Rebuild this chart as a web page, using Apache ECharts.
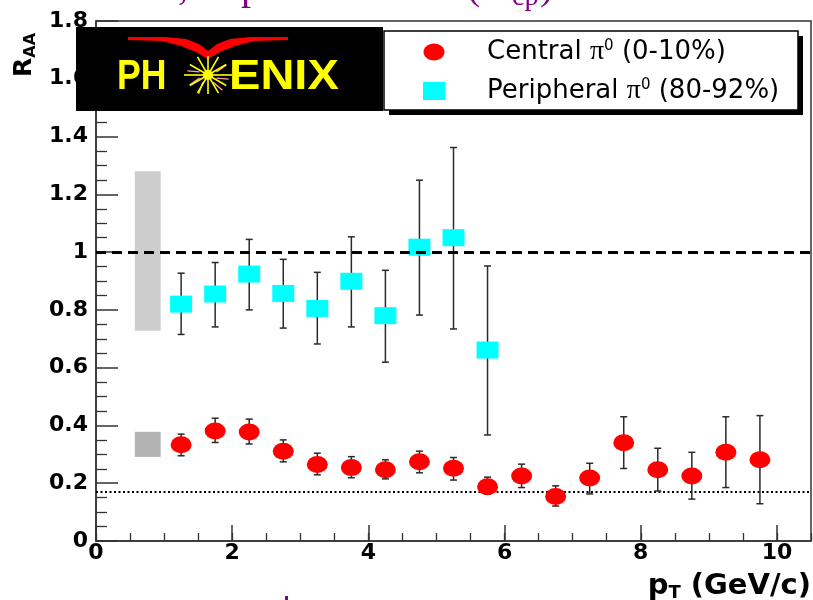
<!DOCTYPE html>
<html>
<head>
<meta charset="utf-8">
<script src="https://cdn.jsdelivr.net/npm/echarts@6/dist/echarts.min.js"></script>
<style>
  html, body { margin: 0; padding: 0; background: #fff; }
  #chart { width: 813px; height: 600px; }
</style>
</head>
<body>
<div id="chart"></div>
<script>
// pT bin centres (GeV/c)
const centralPt = [1.25, 1.75, 2.25, 2.75, 3.25, 3.75, 4.25, 4.75, 5.25, 5.75, 6.25, 6.75, 7.25, 7.75, 8.25, 8.75, 9.25, 9.75];
const peripheralPt = [1.25, 1.75, 2.25, 2.75, 3.25, 3.75, 4.25, 4.75, 5.25, 5.75];

// Central pi0 (0-10%) R_AA with statistical error range
const centralRaa = [0.333, 0.381, 0.377, 0.311, 0.265, 0.254, 0.247, 0.274, 0.252, 0.188, 0.225, 0.154, 0.218, 0.340, 0.247, 0.225, 0.307, 0.281];
const centralLow = [0.295, 0.341, 0.336, 0.274, 0.229, 0.219, 0.215, 0.236, 0.211, 0.162, 0.185, 0.121, 0.163, 0.251, 0.173, 0.145, 0.185, 0.129];
const centralHigh = [0.370, 0.425, 0.422, 0.350, 0.304, 0.292, 0.281, 0.311, 0.289, 0.221, 0.266, 0.191, 0.269, 0.430, 0.321, 0.307, 0.430, 0.434];

// Peripheral pi0 (80-92%) R_AA with statistical error range
const peripheralRaa = [0.820, 0.855, 0.924, 0.857, 0.805, 0.899, 0.780, 1.017, 1.050, 0.661];
const peripheralLow = [0.715, 0.741, 0.800, 0.737, 0.682, 0.741, 0.619, 0.782, 0.734, 0.367];
const peripheralHigh = [0.927, 0.964, 1.044, 0.975, 0.930, 1.053, 0.937, 1.249, 1.362, 0.952];

// Normalisation (systematic) bands drawn near pT = 0.75
const sysBandPt = [0.57, 0.95];
const peripheralSys = [0.728, 1.28];
const centralSys = [0.291, 0.378];

// Reference levels
const unityLevel = 1;
const partScalingLevel = 0.17;

// Axis ranges and ticks
const xRange = [0, 10.5];
const xMajorStep = 2;
const xMinorStep = 0.5;
const yRange = [0, 1.8];
const yMajorStep = 0.2;

const labelFont = { fontFamily: 'DejaVu Sans', fontWeight: 'bold', fontSize: 22, color: '#000' };
const axisColor = '#333';

function errorBarSeries(xs, lows, highs) {
  return {
    type: 'custom',
    xAxisIndex: 0,
    yAxisIndex: 0,
    z: 2,
    silent: true,
    data: xs.map((x, i) => [x, lows[i], highs[i]]),
    encode: { x: 0, y: [1, 2] },
    renderItem: function (params, api) {
      const x = api.value(0);
      const top = api.coord([x, api.value(2)]);
      const bot = api.coord([x, api.value(1)]);
      const cap = 3.5;
      const st = { stroke: '#2a2a2a', lineWidth: 1.5 };
      return {
        type: 'group',
        children: [
          { type: 'line', shape: { x1: top[0], y1: top[1], x2: bot[0], y2: bot[1] }, style: st },
          { type: 'line', shape: { x1: top[0] - cap, y1: top[1], x2: top[0] + cap, y2: top[1] }, style: st },
          { type: 'line', shape: { x1: bot[0] - cap, y1: bot[1], x2: bot[0] + cap, y2: bot[1] }, style: st }
        ]
      };
    }
  };
}

// PHENIX logo star burst around its centre
const starCx = 208, starCy = 75;
const starRays = [];
[0, 30, 60, 90, 120, 150, 180, 210, 240, 270, 300, 330].forEach(function (deg) {
  const a = deg * Math.PI / 180;
  const len = (deg === 90 || deg === 270) ? 19 : (deg === 0 || deg === 180 ? 24 : 21);
  starRays.push({
    type: 'line', z: 102,
    shape: { x1: starCx, y1: starCy, x2: starCx + len * Math.cos(a), y2: starCy - len * Math.sin(a) },
    style: { stroke: '#ffff00', lineWidth: 1.6 }
  });
});
[20, 160, 200, 235, 305, 340].forEach(function (deg) {
  const a = deg * Math.PI / 180;
  starRays.push({
    type: 'line', z: 101,
    shape: { x1: starCx + 9 * Math.cos(a), y1: starCy - 9 * Math.sin(a), x2: starCx + 21 * Math.cos(a + 0.15), y2: starCy - 21 * Math.sin(a + 0.15) },
    style: { stroke: '#ff9fb0', lineWidth: 1.4 }
  });
});

const chart = echarts.init(document.getElementById('chart'), null, { renderer: 'canvas' });

chart.setOption({
  animation: false,
  backgroundColor: '#fff',
  grid: {
    left: 96, right: 2, top: 21, bottom: 59,
    containLabel: false,
    outerBoundsMode: 'none',
    show: true,
    borderColor: axisColor,
    borderWidth: 1.5,
    backgroundColor: 'transparent'
  },
  xAxis: [
    {
      type: 'value',
      min: xRange[0], max: xRange[1], interval: xMajorStep,
      position: 'bottom',
      axisLine: { show: true, lineStyle: { color: axisColor, width: 1.5 } },
      axisTick: { show: true, inside: true, length: 16, lineStyle: { color: axisColor, width: 1.5 } },
      axisLabel: Object.assign({ margin: 1, showMaxLabel: false }, labelFont),
      splitLine: { show: false }
    },
    {
      type: 'value',
      min: xRange[0], max: xRange[1], interval: xMinorStep,
      position: 'bottom',
      axisLine: { show: false },
      axisTick: { show: true, inside: true, length: 8, lineStyle: { color: axisColor, width: 1.3 } },
      axisLabel: { show: false },
      splitLine: { show: false }
    }
  ],
  yAxis: {
    type: 'value',
    min: yRange[0], max: yRange[1], interval: yMajorStep,
    axisLine: { show: true, lineStyle: { color: axisColor, width: 1.5 } },
    axisTick: { show: true, inside: true, length: 22, lineStyle: { color: axisColor, width: 1.5 } },
    minorTick: { show: true, splitNumber: 4, length: 11, lineStyle: { color: axisColor, width: 1.3 } },
    axisLabel: Object.assign({ margin: 8 }, labelFont),
    splitLine: { show: false },
    minorSplitLine: { show: false }
  },
  series: [
    errorBarSeries(peripheralPt, peripheralLow, peripheralHigh),
    errorBarSeries(centralPt, centralLow, centralHigh),
    {
      name: 'Peripheral',
      type: 'scatter',
      xAxisIndex: 0,
      z: 3,
      symbol: 'rect',
      symbolSize: [22, 17],
      itemStyle: { color: '#00ffff', opacity: 1 },
      data: peripheralPt.map((x, i) => [x, peripheralRaa[i]]),
      markLine: {
        silent: true,
        z: 5,
        symbol: 'none',
        label: { show: false },
        lineStyle: { color: '#000', width: 3, type: [10, 6] },
        data: [{ yAxis: unityLevel }]
      }
    },
    {
      name: 'Central',
      type: 'scatter',
      xAxisIndex: 0,
      z: 3,
      symbol: 'circle',
      symbolSize: [21, 17],
      itemStyle: { color: '#ff0000', opacity: 1 },
      data: centralPt.map((x, i) => [x, centralRaa[i]]),
      markLine: {
        silent: true,
        z: 1,
        symbol: 'none',
        label: { show: false },
        lineStyle: { color: '#000', width: 2, type: [2, 2.5] },
        data: [{ yAxis: partScalingLevel }]
      },
      markArea: {
        silent: true,
        z: 0,
        data: [
          [{ xAxis: sysBandPt[0], yAxis: peripheralSys[0], itemStyle: { color: '#cdcdcd' } }, { xAxis: sysBandPt[1], yAxis: peripheralSys[1] }],
          [{ xAxis: sysBandPt[0], yAxis: centralSys[0], itemStyle: { color: '#b3b3b3' } }, { xAxis: sysBandPt[1], yAxis: centralSys[1] }]
        ]
      }
    }
  ],
  graphic: {
    elements: [
      // heading, mostly outside the canvas
      { type: 'text', x: 178, y: -12, z: 50, style: { text: ',', font: '40px "Liberation Serif"', fill: '#800080', align: 'left', verticalAlign: 'middle' } },
      { type: 'text', x: 241, y: -12, z: 50, style: { text: 'p', font: '40px "Liberation Serif"', fill: '#800080', align: 'left', verticalAlign: 'middle' } },
      { type: 'text', x: 467, y: -12, z: 50, style: { text: '(R', font: '40px "Liberation Serif"', fill: '#800080', align: 'left', verticalAlign: 'middle' } },
      { type: 'text', x: 512, y: -2, z: 50, style: { text: 'cp', font: '28px "Liberation Serif"', fill: '#800080', align: 'left', verticalAlign: 'middle' } },
      { type: 'text', x: 540, y: -12, z: 50, style: { text: ')', font: '40px "Liberation Serif"', fill: '#800080', align: 'left', verticalAlign: 'middle' } },
      { type: 'rect', z: 50, shape: { x: 285, y: 596, width: 3, height: 4 }, style: { fill: '#800080' } },

      // axis titles
      {
        type: 'text', x: 24, y: 55, rotation: Math.PI / 2, z: 50,
        style: {
          text: 'R{sub|AA}',
          font: 'bold 25px "DejaVu Sans"', fill: '#000', align: 'center', verticalAlign: 'middle',
          rich: { sub: { fontFamily: 'DejaVu Sans', fontWeight: 'bold', fontSize: 16, fill: '#000', padding: [14, 0, 0, 0] } }
        }
      },
      {
        type: 'text', x: 811, y: 586, z: 50,
        style: {
          text: 'p{sub|T} (GeV/c)',
          font: 'bold 29px "DejaVu Sans"', fill: '#000', align: 'right', verticalAlign: 'middle',
          rich: { sub: { fontFamily: 'DejaVu Sans', fontWeight: 'bold', fontSize: 18, fill: '#000', padding: [14, 0, 0, 0] } }
        }
      },

      // PHENIX logo
      { type: 'rect', z: 100, shape: { x: 76, y: 27, width: 307, height: 84 }, style: { fill: '#000' } },
      {
        type: 'polygon', z: 101,
        shape: { points: [[128, 37], [165, 37], [186, 39], [199, 44], [208, 51], [217, 44], [230, 39], [251, 37], [288, 37],
                          [288, 40], [254, 41], [235, 46], [220, 52], [208, 59], [196, 52], [181, 46], [162, 41], [128, 40]] },
        style: { fill: '#ff0000' }
      },
      { type: 'text', x: 117, y: 77, z: 101, scaleX: 0.85, style: { text: 'PH', font: 'bold 42px "Liberation Sans"', fill: '#ffff00', align: 'left', verticalAlign: 'middle' } },
      { type: 'text', x: 229, y: 77, z: 101, scaleX: 1.12, style: { text: 'ENIX', font: 'bold 42px "Liberation Sans"', fill: '#ffff00', align: 'left', verticalAlign: 'middle' } },
      ...starRays,
      { type: 'circle', z: 103, shape: { cx: starCx, cy: starCy, r: 5 }, style: { fill: '#ffff00' } },

      // legend
      { type: 'rect', z: 100, shape: { x: 389, y: 36, width: 414, height: 79 }, style: { fill: '#000' } },
      { type: 'rect', z: 101, shape: { x: 384, y: 31, width: 414, height: 79 }, style: { fill: '#fff', stroke: '#000', lineWidth: 1.5 } },
      { type: 'ellipse', z: 102, shape: { cx: 434, cy: 52, rx: 10.5, ry: 8.5 }, style: { fill: '#ff0000' } },
      { type: 'rect', z: 102, shape: { x: 423, y: 82, width: 22, height: 18 }, style: { fill: '#00ffff' } },
      {
        type: 'text', x: 487, y: 52, z: 102,
        style: {
          text: 'Central {pi|π}{sup|0} (0-10%)',
          font: '26px "DejaVu Sans"', fill: '#000', align: 'left', verticalAlign: 'middle',
          rich: {
            pi: { fontFamily: 'Liberation Serif', fontSize: 28, fill: '#000' },
            sup: { fontFamily: 'DejaVu Sans', fontSize: 15, fill: '#000', padding: [0, 0, 12, 0] }
          }
        }
      },
      {
        type: 'text', x: 487, y: 91, z: 102,
        style: {
          text: 'Peripheral {pi|π}{sup|0} (80-92%)',
          font: '26px "DejaVu Sans"', fill: '#000', align: 'left', verticalAlign: 'middle',
          rich: {
            pi: { fontFamily: 'Liberation Serif', fontSize: 28, fill: '#000' },
            sup: { fontFamily: 'DejaVu Sans', fontSize: 15, fill: '#000', padding: [0, 0, 12, 0] }
          }
        }
      }
    ]
  }
});
</script>
</body>
</html>
